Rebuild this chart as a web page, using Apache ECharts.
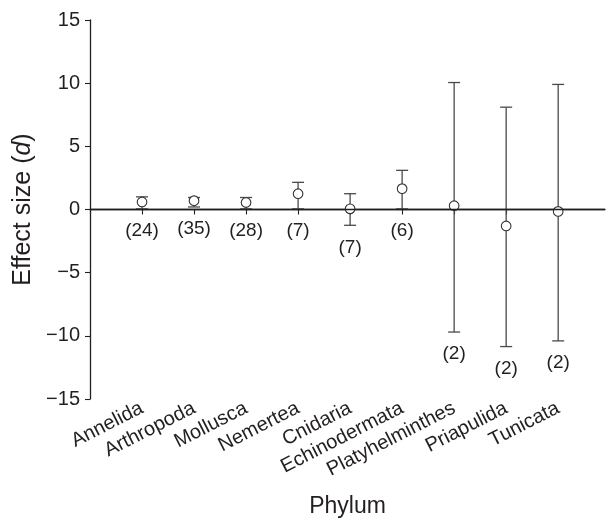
<!DOCTYPE html>
<html>
<head>
<meta charset="utf-8">
<script src="https://cdn.jsdelivr.net/npm/echarts@6/dist/echarts.min.js"></script>
<style>
  html, body { margin: 0; padding: 0; background: #fff; }
  #main { width: 608px; height: 518px; }
</style>
</head>
<body>
<div id="main"></div>
<script>
// phylum order along the x axis
var phyla = ['Annelida', 'Arthropoda', 'Mollusca', 'Nemertea', 'Cnidaria',
             'Echinodermata', 'Platyhelminthes', 'Priapulida', 'Tunicata'];
// mean effect size d and the ends of its interval
var meanD  = [0.6, 0.7, 0.55, 1.25, 0.05, 1.65, 0.3, -1.3, -0.15];
var lowerD = [0.05, 0.2, 0.05, 0.05, -1.25, 0.05, -9.7, -10.85, -10.4];
var upperD = [1.0, 0.95, 0.95, 2.15, 1.25, 3.1, 10.05, 8.1, 9.9];
// number of studies per phylum
var nStudies = [24, 35, 28, 7, 7, 6, 2, 2, 2];
var yTicks = [-15, -10, -5, 0, 5, 10, 15];

var ink = '#231f20';
var font = "'Liberation Sans', Arial, Helvetica, sans-serif";

var rows = phyla.map(function (p, i) {
  return [i + 1, meanD[i], lowerD[i], upperD[i], nStudies[i]];
});

var myChart = echarts.init(document.getElementById('main'));
var option = {
  animation: false,
  backgroundColor: '#fff',
  grid: { left: 90, right: 3, top: 20, bottom: 119, containLabel: false, outerBoundsMode: 'none' },
  xAxis: {
    type: 'value',
    min: 0, max: 9.9, interval: 1,
    name: 'Phylum',
    nameLocation: 'middle',
    nameGap: 96,
    nameTextStyle: { color: ink, fontSize: 23, fontFamily: font },
    axisLine: { lineStyle: { color: ink, width: 1.3 } },
    axisTick: { lineStyle: { color: ink, width: 1.1 }, length: 5 },
    splitLine: { show: false },
    axisLabel: {
      rotate: 27, margin: 8, color: ink, fontSize: 20, fontFamily: font,
      showMaxLabel: false,
      formatter: function (v) { return phyla[v - 1] || ''; }
    }
  },
  yAxis: {
    type: 'value',
    min: yTicks[0], max: yTicks[yTicks.length - 1], interval: 5,
    name: '{a|Effect size (}{b|d}{a|)}',
    nameLocation: 'middle',
    nameGap: 52,
    nameTextStyle: {
      rich: {
        a: { color: ink, fontSize: 25, fontFamily: font },
        b: { color: ink, fontSize: 25, fontFamily: font, fontStyle: 'italic' }
      }
    },
    axisLine: { show: true, lineStyle: { color: ink, width: 1.3 } },
    axisTick: { show: true, lineStyle: { color: ink, width: 1.1 }, length: 5 },
    splitLine: { show: false },
    axisLabel: {
      margin: 10, color: ink, fontSize: 20, fontFamily: font,
      formatter: function (v) { return v < 0 ? '\u2212' + Math.abs(v) : String(v); }
    }
  },
  series: [{
    type: 'custom',
    data: rows,
    encode: { x: 0, y: [1, 2, 3] },
    renderItem: function (params, api) {
      var x = api.value(0);
      var m = api.coord([x, api.value(1)]);
      var lo = api.coord([x, api.value(2)]);
      var hi = api.coord([x, api.value(3)]);
      var cap = 6;
      var barStyle = { stroke: '#4a4a4c', lineWidth: 1.3 };
      return {
        type: 'group',
        children: [
          { type: 'line', shape: { x1: lo[0], y1: lo[1], x2: hi[0], y2: hi[1] }, style: barStyle },
          { type: 'line', shape: { x1: hi[0] - cap, y1: hi[1], x2: hi[0] + cap, y2: hi[1] }, style: barStyle },
          { type: 'line', shape: { x1: lo[0] - cap, y1: lo[1], x2: lo[0] + cap, y2: lo[1] }, style: barStyle },
          { type: 'circle', shape: { cx: m[0], cy: m[1], r: 4.8 }, style: { fill: '#fff', stroke: '#333', lineWidth: 1.1 } },
          { type: 'text', x: lo[0], y: lo[1] + 22,
            style: { text: '(' + api.value(4) + ')', fill: ink, fontSize: 19, fontFamily: font,
                     align: 'center', verticalAlign: 'middle' } }
        ]
      };
    },
    markLine: {
      silent: true, symbol: 'none', label: { show: false },
      lineStyle: { color: ink, width: 1.4, type: 'solid' },
      data: [{ yAxis: 0 }]
    },
    z: 3
  }]
};
myChart.setOption(option);
</script>
</body>
</html>
